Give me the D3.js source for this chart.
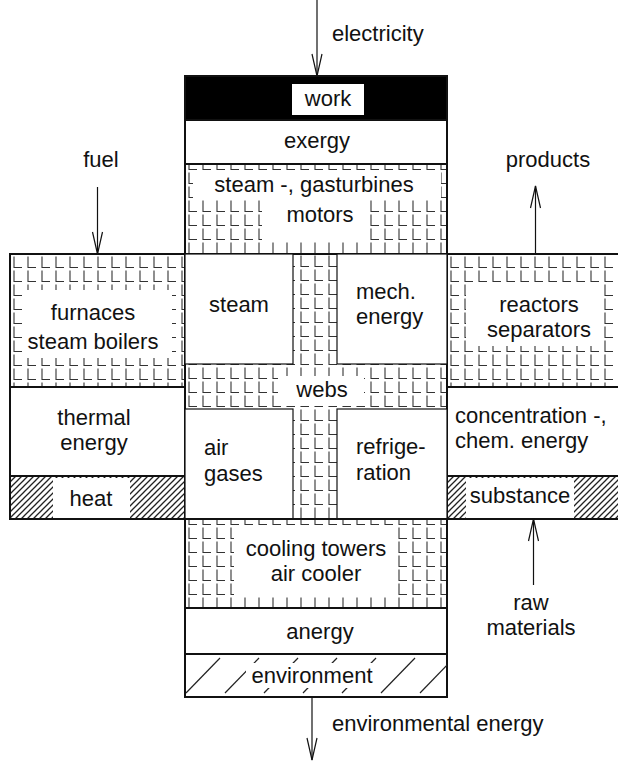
<!DOCTYPE html>
<html>
<head>
<meta charset="utf-8">
<script src="https://cdn.jsdelivr.net/npm/d3@7"></script>
<style>
  html, body { margin: 0; padding: 0; background: #fff; }
  svg { display: block; }
  text { font-family: "Liberation Sans", Arial, sans-serif; font-size: 22px; fill: #111; }
</style>
</head>
<body>
<svg id="chart" width="618" height="763"></svg>
<script>
// ---- diagram content ----
const colEdges = [10, 185, 293, 337, 447, 622];
const rowEdges = [76, 120, 164, 254, 364, 387, 409, 476, 519, 608, 654, 697];

// blocks: id, column span, row span, kind of filling
const blockIds   = ['web', 'work', 'exergy', 'turbines', 'furnaces', 'thermal', 'heat',
                    'reactors', 'chem', 'substance', 'steam', 'mech', 'air', 'refrig',
                    'cooling', 'anergy', 'environment'];
const blockCols  = [[1, 4], [1, 4], [1, 4], [1, 4], [0, 1], [0, 1], [0, 1],
                    [4, 5], [4, 5], [4, 5], [1, 2], [3, 4], [1, 2], [3, 4],
                    [1, 4], [1, 4], [1, 4]];
const blockRows  = [[3, 8], [0, 1], [1, 2], [2, 3], [3, 5], [5, 7], [7, 8],
                    [3, 5], [5, 7], [7, 8], [3, 4], [3, 4], [6, 8], [6, 8],
                    [8, 9], [9, 10], [10, 11]];
const blockKinds = ['grid', 'solid', 'plain', 'grid', 'grid', 'plain', 'hatch',
                    'grid', 'plain', 'hatch', 'box', 'box', 'box', 'box',
                    'grid', 'plain', 'sparse'];

const labelTexts = {
  work: ['work'],
  exergy: ['exergy'],
  turbines: ['steam -, gasturbines', 'motors'],
  furnaces: ['furnaces', 'steam boilers'],
  thermal: ['thermal', 'energy'],
  heat: ['heat'],
  reactors: ['reactors', 'separators'],
  chem: ['concentration -,', 'chem. energy'],
  substance: ['substance'],
  steam: ['steam'],
  mech: ['mech.', 'energy'],
  webs: ['webs'],
  air: ['air', 'gases'],
  refrig: ['refrige-', 'ration'],
  cooling: ['cooling towers', 'air cooler'],
  anergy: ['anergy'],
  environment: ['environment']
};

const flowNames = ['electricity', 'fuel', 'products', 'raw materials', 'environmental energy'];

// ---- scales ----
const xs = d3.scaleLinear().domain(d3.range(colEdges.length)).range(colEdges);
const ys = d3.scaleLinear().domain(d3.range(rowEdges.length)).range(rowEdges);

const svg = d3.select('#chart');
const defs = svg.append('defs');

const blocks = blockIds.map((id, i) => ({
  id,
  kind: blockKinds[i],
  x0: xs(blockCols[i][0]), x1: xs(blockCols[i][1]),
  y0: ys(blockRows[i][0]), y1: ys(blockRows[i][1])
}));
const byId = Object.fromEntries(blocks.map(b => [b.id, b]));

// vertical phase of the L grid per block
const gridPhase = { web: 0, turbines: -7, furnaces: 1, reactors: 1, cooling: -7 };

function gridPattern(b) {
  const p = defs.append('pattern')
    .attr('id', 'grid-' + b.id)
    .attr('patternUnits', 'userSpaceOnUse')
    .attr('width', 14).attr('height', 14)
    .attr('x', b.x0 + 1).attr('y', b.y0 + (gridPhase[b.id] || 0));
  p.append('rect').attr('width', 14).attr('height', 14).attr('fill', '#fff');
  p.append('path').attr('d', 'M3,1.5 V12.5 H11')
    .attr('fill', 'none').attr('stroke', '#333').attr('stroke-width', 1.1);
  return 'url(#grid-' + b.id + ')';
}

const hatch = defs.append('pattern')
  .attr('id', 'hatch').attr('patternUnits', 'userSpaceOnUse')
  .attr('width', 6).attr('height', 6);
hatch.append('rect').attr('width', 6).attr('height', 6).attr('fill', '#fff');
hatch.append('path').attr('d', 'M0,6 L6,0 M-1,1 L1,-1 M5,7 L7,5')
  .attr('stroke', '#222').attr('stroke-width', 1.3);

// ---- blocks ----
const g = svg.append('g');
blocks.forEach(b => {
  let fill = '#fff';
  if (b.kind === 'grid') fill = gridPattern(b);
  if (b.kind === 'solid') fill = '#000';
  if (b.kind === 'hatch') fill = 'url(#hatch)';
  g.append('rect')
    .attr('x', b.x0).attr('y', b.y0)
    .attr('width', b.x1 - b.x0).attr('height', b.y1 - b.y0)
    .attr('fill', fill)
    .attr('stroke', '#111')
    .attr('stroke-width', b.kind === 'box' ? 1.2 : 2);
});

// sparse diagonal lines in the environment band
const env = byId.environment;
defs.append('clipPath').attr('id', 'env-clip')
  .append('rect').attr('x', env.x0).attr('y', env.y0)
  .attr('width', env.x1 - env.x0).attr('height', env.y1 - env.y0);
g.append('g').attr('clip-path', 'url(#env-clip)')
  .selectAll('line')
  .data(d3.range(env.x0 + 1, env.x1 + 40, 39))
  .join('line')
  .attr('x1', d => d).attr('y1', env.y1 - 4)
  .attr('x2', d => d + 34).attr('y2', env.y0 + 4)
  .attr('stroke', '#222').attr('stroke-width', 1.2);

// white clearings behind the labels
const holes = [
  [193, 172, 441, 199], [262, 199, 368, 240],   // turbines / motors
  [26, 290, 172, 358],                          // furnaces
  [466, 284, 600, 346],                         // reactors
  [278, 376, 364, 406],                         // webs
  [234, 527, 397, 597],                         // cooling towers
  [53, 478, 130, 518], [466, 478, 574, 518],    // heat, substance
  [246, 663, 376, 688]                          // environment
];
g.selectAll('rect.hole').data(holes).join('rect')
  .attr('class', 'hole')
  .attr('x', d => d[0]).attr('y', d => d[1])
  .attr('width', d => d[2] - d[0]).attr('height', d => d[3] - d[1])
  .attr('fill', '#fff');

// white box of the "work" label
g.append('rect').attr('x', 292).attr('y', 84).attr('width', 72).attr('height', 31).attr('fill', '#fff');

// ---- labels ----
const place = {
  work: [328, 106, 'middle'], exergy: [317, 148, 'middle'],
  turbines: [314, 192, 'middle', 30], furnaces: [93, 320, 'middle', 29],
  thermal: [94, 425, 'middle'], heat: [91, 506, 'middle'],
  reactors: [539, 312, 'middle'], chem: [455, 423, 'start'],
  substance: [520, 503, 'middle'], steam: [239, 312, 'middle'],
  mech: [356, 299, 'start'], webs: [322, 397, 'middle'],
  air: [204, 455, 'start', 26], refrig: [356, 454, 'start', 26],
  cooling: [316, 556, 'middle'], anergy: [320, 639, 'middle'],
  environment: [312, 683, 'middle']
};

Object.entries(labelTexts).forEach(([id, lines]) => {
  const [x, y, anchor, gap] = place[id];
  const t = g.append('text').attr('text-anchor', anchor);
  lines.forEach((line, i) => {
    t.append('tspan').attr('x', x).attr('y', y + i * (gap || 25)).text(line);
  });
});
// "motors" sits a bit right of the line above
g.selectAll('text').filter(function () { return this.textContent.startsWith('steam -'); })
  .select('tspan:nth-child(2)').attr('x', 320);

// ---- flows (arrows) ----
const flowX = [xs(2.5) + 2, xs(0.5), xs(4.5) + 1, xs(4.5) - 1, xs(2.5) - 3];
const flowY = [[0, ys(0)], [187, ys(3)], [ys(3), 186], [585, ys(8)], [ys(11), 760]];
const flowLabel = [[332, 41, 'start'], [101, 167, 'middle'], [548, 167, 'middle'],
                   [531, 610, 'middle'], [332, 731, 'start']];

flowNames.forEach((name, i) => {
  const x = flowX[i];
  const [yA, yB] = flowY[i];
  const dir = yB > yA ? 1 : -1;
  g.append('line').attr('x1', x).attr('y1', yA).attr('x2', x).attr('y2', yB)
    .attr('stroke', '#111').attr('stroke-width', 1.2);
  g.append('path')
    .attr('d', `M${x - 5},${yB - dir * 22} L${x},${yB} L${x + 5},${yB - dir * 22}`)
    .attr('fill', 'none').attr('stroke', '#111').attr('stroke-width', 1.2);
  const [lx, ly, anchor] = flowLabel[i];
  const t = g.append('text').attr('text-anchor', anchor);
  const words = name === 'raw materials' ? ['raw', 'materials'] : [name];
  words.forEach((w, k) => t.append('tspan').attr('x', lx).attr('y', ly + k * 25).text(w));
});
</script>
</body>
</html>
